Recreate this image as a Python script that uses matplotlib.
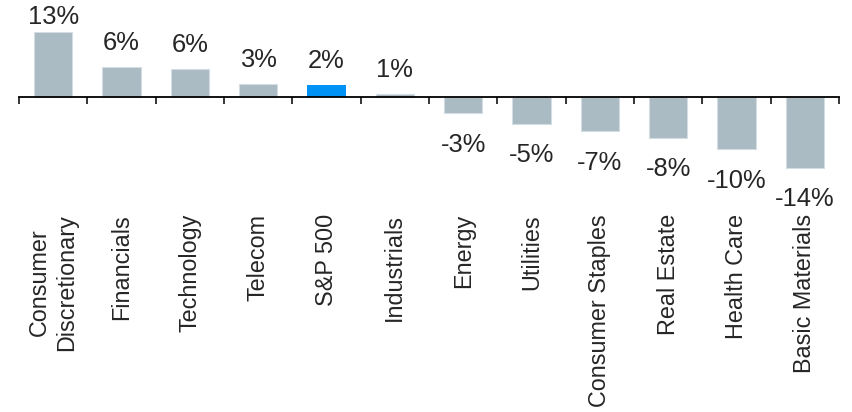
import matplotlib
matplotlib.use("Agg")
import matplotlib.pyplot as plt
import matplotlib.transforms as mtransforms

plt.rcParams['font.family'] = ['Liberation Sans', 'DejaVu Sans']

sectors = ["Consumer\nDiscretionary", "Financials", "Technology", "Telecom",
           "S&P 500", "Industrials", "Energy", "Utilities", "Consumer Staples",
           "Real Estate", "Health Care", "Basic Materials"]
returns = [13.0, 6.1, 5.7, 2.6, 2.4, 0.6, -3.2, -5.3, -6.8, -8.1, -10.4, -14.1]
highlight = "S&P 500"

gray = "#abbbc3"
blue = "#0092f5"
text_color = "#262626"

W, H, DPI = 852, 412, 100
fig = plt.figure(figsize=(W / DPI, H / DPI), dpi=DPI)

# axes spans the plotting band; 5 px per percentage point
ax_left, ax_right = 19, 839
ax_top, ax_bottom = 0, 200
ax = fig.add_axes([ax_left / W, 1 - ax_bottom / H,
                   (ax_right - ax_left) / W, (ax_bottom - ax_top) / H])
px_per_pt = 5.0
zero_y = 97.3
ymax = zero_y / px_per_pt
ymin = ymax - (ax_bottom - ax_top) / px_per_pt
ax.set_ylim(ymin, ymax)
ax.set_xlim(-0.5, len(sectors) - 0.5)

x = list(range(len(sectors)))
colors = [blue if s == highlight else gray for s in sectors]
edges = ["none" if s == highlight else "#d3dde2" for s in sectors]
ax.bar(x, returns, width=0.56, color=colors, edgecolor=edges, linewidth=0.8, zorder=2)

# value labels
for xi, v in zip(x, returns):
    txt = f"{v:.0f}%"
    if v >= 0:
        y = min(v + 3.4, ymax - 4.8)
        ax.text(xi, y, txt, ha="center", va="baseline", fontsize=18.4, color=text_color)
    else:
        ax.text(xi, v - 3.9, txt, ha="center", va="top", fontsize=18.4, color=text_color)

# zero axis with ticks between categories
for side in ["top", "right", "left"]:
    ax.spines[side].set_visible(False)
ax.spines["bottom"].set_position(("data", 0))
ax.spines["bottom"].set_linewidth(1.3)
ax.spines["bottom"].set_zorder(3)
ax.set_xticks([i - 0.5 for i in range(len(sectors) + 1)])
ax.set_xticklabels([])
ax.tick_params(axis="x", direction="out", length=5, width=1.1, color="black")
ax.set_yticks([])

# category labels below the plot
trans = mtransforms.blended_transform_factory(ax.transData, fig.transFigure)
for xi, name in zip(x, sectors):
    ax.text(xi, 1 - 214 / H, name, transform=trans, rotation=90,
            ha="center", va="top", fontsize=16.8, color=text_color,
            multialignment="center")

fig.savefig("out.png", dpi=DPI)
